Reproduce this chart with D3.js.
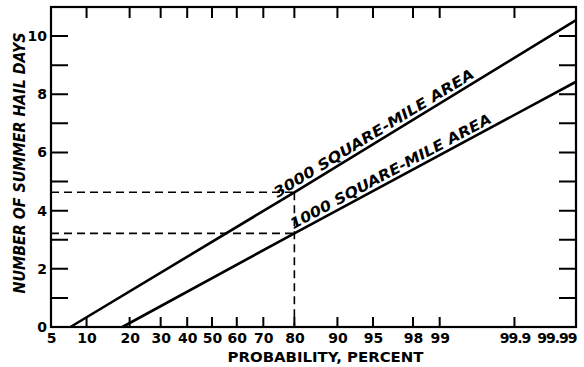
<!DOCTYPE html>
<html>
<head>
<meta charset="utf-8">
<script src="https://cdn.jsdelivr.net/npm/d3@7"></script>
<style>
  body { margin: 0; background: #fff; }
  svg { display: block; }
  .tick text { font-family: "DejaVu Sans", sans-serif; font-weight: bold; font-size: 14px; fill: #000; }
</style>
</head>
<body>
<div id="chart"></div>
<script>
// probability ticks (percent) on the normal-probability x axis
const PROB_TICKS = [5, 10, 20, 30, 40, 50, 60, 70, 80, 90, 95, 98, 99, 99.9, 99.99];
const DAY_TICKS = [0, 1, 2, 3, 4, 5, 6, 7, 8, 9, 10];

// [probability %, hail days]
const AREA_3000 = [[7.4, 0], [80, 4.63], [99.99, 10.55]];
const AREA_1000 = [[18, 0], [80, 3.22], [99.99, 8.43]];

// reading guides at 80 %
const GUIDE_PROB = 80;
const GUIDE_DAYS = [4.63, 3.22];

const LABELS = [
  { text: "3000 SQUARE-MILE AREA", data: AREA_3000, at: 75.5, len: 232 },
  { text: "1000 SQUARE-MILE AREA", data: AREA_1000, at: 80.3, len: 226 },
];

// inverse standard normal CDF (Acklam)
function probit(p) {
  const a = [-3.969683028665376e+01, 2.209460984245205e+02, -2.759285104469687e+02, 1.383577518672690e+02, -3.066479806614716e+01, 2.506628277459239e+00];
  const b = [-5.447609879822406e+01, 1.615858368580409e+02, -1.556989798598866e+02, 6.680131188771972e+01, -1.328068155288572e+01];
  const c = [-7.784894002430293e-03, -3.223964580411365e-01, -2.400758277161838e+00, -2.549671669712705e+00, 4.374664141464968e+00, 2.938163982698783e+00];
  const d = [7.784695709041462e-03, 3.224671290700398e-01, 2.445134137142996e+00, 3.754408661907416e+00];
  const pl = 0.02425;
  let q, r;
  if (p < pl) {
    q = Math.sqrt(-2 * Math.log(p));
    return (((((c[0]*q+c[1])*q+c[2])*q+c[3])*q+c[4])*q+c[5]) / ((((d[0]*q+d[1])*q+d[2])*q+d[3])*q+1);
  }
  if (p > 1 - pl) {
    q = Math.sqrt(-2 * Math.log(1 - p));
    return -(((((c[0]*q+c[1])*q+c[2])*q+c[3])*q+c[4])*q+c[5]) / ((((d[0]*q+d[1])*q+d[2])*q+d[3])*q+1);
  }
  q = p - 0.5; r = q * q;
  return (((((a[0]*r+a[1])*r+a[2])*r+a[3])*r+a[4])*r+a[5])*q / (((((b[0]*r+b[1])*r+b[2])*r+b[3])*r+b[4])*r+1);
}

const W = 584, H = 367;
const margin = { top: 7, right: 8, bottom: 40, left: 51 };
const width = W - margin.left - margin.right;
const height = H - margin.top - margin.bottom;

const svg = d3.select("#chart").append("svg")
  .attr("width", W).attr("height", H)
  .append("g")
  .attr("transform", `translate(${margin.left},${margin.top})`);

const zScale = d3.scaleLinear()
  .domain([probit(0.05), probit(0.9999)])
  .range([0, width]);
const x = p => zScale(probit(p / 100));
const y = d3.scaleLinear().domain([0, 11]).range([height, 0]);

// ── Tick labels ────────────────────────────────────────────────────────────
const bottom = svg.append("g")
  .attr("transform", `translate(0,${height})`)
  .call(d3.axisBottom(zScale)
    .tickValues(PROB_TICKS.map(p => probit(p / 100)))
    .tickSize(0).tickPadding(6)
    .tickFormat((z, i) => String(PROB_TICKS[i])));
bottom.select(".domain").remove();
bottom.selectAll(".tick text").filter((d, i) => PROB_TICKS[i] > 99.5)
  .style("letter-spacing", "-1px");
bottom.selectAll(".tick text").filter((d, i) => PROB_TICKS[i] === 99.99)
  .attr("text-anchor", "end");

const left = svg.append("g")
  .call(d3.axisLeft(y).tickValues(DAY_TICKS.filter(d => d % 2 === 0))
    .tickSize(0).tickPadding(4));
left.select(".domain").remove();

// ── Inward tick marks on all four sides ────────────────────────────────────
const inner = PROB_TICKS.filter(p => p > 5 && p < 99.99);
const tp = d3.path();
inner.forEach(p => {
  tp.moveTo(x(p), 0); tp.lineTo(x(p), 11);
  tp.moveTo(x(p), height); tp.lineTo(x(p), height - 10);
});
DAY_TICKS.slice(1).forEach(v => {
  tp.moveTo(0, y(v)); tp.lineTo(17, y(v));
  tp.moveTo(width, y(v)); tp.lineTo(width - 17, y(v));
});
svg.append("path")
  .attr("d", tp.toString())
  .attr("fill", "none")
  .attr("stroke", "#000")
  .attr("stroke-width", 2);

// frame
svg.append("rect")
  .attr("width", width).attr("height", height)
  .attr("fill", "none").attr("stroke", "#000").attr("stroke-width", 2.2);

// ── Dashed reading guides ──────────────────────────────────────────────────
GUIDE_DAYS.forEach(v => {
  svg.append("line")
    .attr("x1", 0).attr("x2", x(GUIDE_PROB))
    .attr("y1", y(v)).attr("y2", y(v))
    .attr("stroke", "#000").attr("stroke-width", 1.6)
    .attr("stroke-dasharray", "8,5");
});
svg.append("line")
  .attr("x1", x(GUIDE_PROB)).attr("x2", x(GUIDE_PROB))
  .attr("y1", y(d3.max(GUIDE_DAYS))).attr("y2", height)
  .attr("stroke", "#000").attr("stroke-width", 1.6)
  .attr("stroke-dasharray", "8,5");

// ── Curves ─────────────────────────────────────────────────────────────────
const line = d3.line().x(d => x(d[0])).y(d => y(d[1]));
[AREA_3000, AREA_1000].forEach(s => {
  svg.append("path")
    .datum(s)
    .attr("fill", "none").attr("stroke", "#000").attr("stroke-width", 2.6)
    .attr("d", line);
});

// ── Curve labels, laid along the lines ─────────────────────────────────────
LABELS.forEach(l => {
  const [p0, p1] = [l.data[1], l.data[2]];
  const angle = Math.atan2(y(p1[1]) - y(p0[1]), x(p1[0]) - x(p0[0])) * 180 / Math.PI;
  const px = x(l.at);
  const t = (probit(l.at / 100) - probit(p0[0] / 100)) / (probit(p1[0] / 100) - probit(p0[0] / 100));
  const py = y(p0[1] + t * (p1[1] - p0[1]));
  svg.append("text")
    .attr("transform", `translate(${px},${py}) rotate(${angle})`)
    .attr("dy", -4)
    .attr("textLength", l.len).attr("lengthAdjust", "spacingAndGlyphs")
    .style("font-family", "'DejaVu Sans', sans-serif")
    .style("font-weight", "bold").style("font-style", "italic")
    .style("font-size", "14.5px")
    .text(l.text);
});

// ── Axis titles ────────────────────────────────────────────────────────────
svg.append("text")
  .attr("x", width / 2 + 12).attr("y", height + 35)
  .attr("text-anchor", "middle")
  .attr("textLength", 196).attr("lengthAdjust", "spacingAndGlyphs")
  .style("font-family", "'DejaVu Sans', sans-serif")
  .style("font-weight", "bold").style("font-size", "14px")
  .text("PROBABILITY, PERCENT");

svg.append("text")
  .attr("transform", "rotate(-90)")
  .attr("x", -height / 2 + 4).attr("y", -26)
  .attr("text-anchor", "middle")
  .attr("textLength", 261).attr("lengthAdjust", "spacingAndGlyphs")
  .style("font-family", "'DejaVu Sans', sans-serif")
  .style("font-weight", "bold").style("font-style", "italic")
  .style("font-size", "15px")
  .text("NUMBER OF SUMMER HAIL DAYS");
</script>
</body>
</html>
